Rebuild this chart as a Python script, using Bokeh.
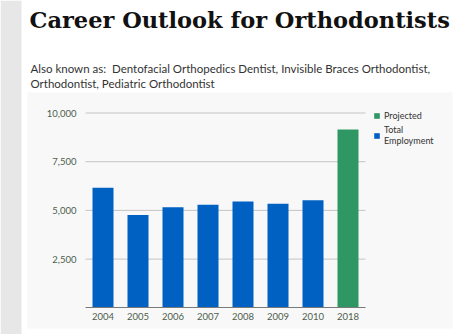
from bokeh.plotting import figure
from bokeh.models import (Range1d, Label, BoxAnnotation, Legend, LegendItem,
                          NumeralTickFormatter, FixedTicker)
from bokeh.embed import file_html
from bokeh.resources import INLINE

# ---- data ----
years = ["2004", "2005", "2006", "2007", "2008", "2009", "2010", "2018"]
hist_values = [6160, 4770, 5160, 5290, 5460, 5340, 5520]
proj_values = [9150]
y_ticks = [2500, 5000, 7500, 10000]

title_text = "Career Outlook for Orthodontists"
sub1 = "Also known as:\u00a0 Dentofacial Orthopedics Dentist, Invisible Braces Orthodontist,"
sub2 = "Orthodontist, Pediatric Orthodontist"

# ---- layout (canvas px) ----
W, H = 474, 334
PL, PR = 85, 365          # plot area left/right
Y0, Y10K = 307.3, 112.5   # canvas y of value 0 and 10000
xpx = (PR - PL) / len(years)
ypx = (Y0 - Y10K) / 10000.0

BLUE = "#0061c3"
GREEN = "#2f9763"
TICK_COLOR = "#4d5e4d"

x_start = -PL / xpx
x_end = len(years) + (W - PR) / xpx
y_start = -(H - Y0) / ypx
y_end = Y0 / ypx

p = figure(width=W, height=H, x_range=Range1d(x_start, x_end),
           y_range=Range1d(y_start, y_end), output_backend="svg",
           toolbar_location=None, min_border=0)
p.title.visible = False
p.outline_line_color = None
p.background_fill_color = "white"
p.border_fill_color = "white"

def sy(y):
    return H - y

strip = BoxAnnotation(left=0, right=21, top=sy(0), bottom=sy(H),
                      left_units="screen", right_units="screen", top_units="screen",
                      bottom_units="screen", fill_color="#e7e7e7", fill_alpha=1,
                      line_color=None, level="image")
panel = BoxAnnotation(left=27, right=452, top=sy(92), bottom=sy(328),
                      left_units="screen", right_units="screen", top_units="screen",
                      bottom_units="screen", fill_color="#f8f8f8", fill_alpha=1,
                      line_color=None, level="image")
p.add_layout(strip)
p.add_layout(panel)

# gridlines across the plot area only
n = len(years)
p.segment(x0=[0] * len(y_ticks), x1=[n] * len(y_ticks), y0=y_ticks, y1=y_ticks,
          line_color="#c4c4c4", line_width=1)

hist_x = [i + 0.5 for i in range(len(hist_values))]
proj_x = [len(hist_values) + i + 0.5 for i in range(len(proj_values))]
r_blue = p.vbar(x=hist_x, top=hist_values, width=0.6, fill_color=BLUE, line_color=None)
r_green = p.vbar(x=proj_x, top=proj_values, width=0.6, fill_color=GREEN, line_color=None)

# axes
p.xgrid.visible = False
p.ygrid.visible = False

p.yaxis.fixed_location = 0
p.yaxis.ticker = FixedTicker(ticks=y_ticks)
p.yaxis.formatter = NumeralTickFormatter(format="0,0")
p.yaxis.axis_line_color = None
p.yaxis.major_tick_line_color = None
p.yaxis.minor_tick_line_color = None
p.yaxis.major_tick_out = 0
p.yaxis.major_tick_in = 0
p.yaxis.major_label_standoff = 9
p.yaxis.major_label_text_font = "Lato"
p.yaxis.major_label_text_font_size = "9.5px"
p.yaxis.major_label_text_color = TICK_COLOR

tick_pos = [i + 0.5 for i in range(n)]
p.xaxis.fixed_location = 0
p.xaxis.bounds = (0, n)
p.xaxis.ticker = FixedTicker(ticks=tick_pos)
p.xaxis.major_label_overrides = {t: y for t, y in zip(tick_pos, years)}
p.xaxis.axis_line_color = "#7a7a7a"
p.xaxis.axis_line_width = 1
p.xaxis.major_tick_line_color = None
p.xaxis.minor_tick_line_color = None
p.xaxis.major_tick_out = 0
p.xaxis.major_tick_in = 0
p.xaxis.major_label_standoff = 5
p.xaxis.major_label_text_font = "Lato"
p.xaxis.major_label_text_font_size = "9.5px"
p.xaxis.major_label_text_color = TICK_COLOR

# legend (location = bottom-left corner, measured from bottom)
legend = Legend(items=[LegendItem(label="Projected", renderers=[r_green]),
                       LegendItem(label="Total\nEmployment", renderers=[r_blue])],
                location=(373, sy(146)), padding=0, margin=0, spacing=3,
                glyph_width=7, glyph_height=7, label_standoff=4, label_height=9,
                label_text_font="Lato", label_text_font_size="9px",
                label_text_color="#333333", border_line_color=None,
                background_fill_alpha=0)
p.add_layout(legend)

# titles
p.add_layout(Label(x=29, y=sy(19), x_units="screen", y_units="screen", text=title_text,
                   text_font="DejaVu Serif", text_font_style="bold", text_font_size="22.5px",
                   text_color="#111111", text_baseline="middle"))
p.add_layout(Label(x=30, y=sy(68), x_units="screen", y_units="screen", text=sub1,
                   text_font="Lato", text_font_size="11.5px", text_color="#333333",
                   text_baseline="middle"))
p.add_layout(Label(x=30, y=sy(83), x_units="screen", y_units="screen", text=sub2,
                   text_font="Lato", text_font_size="11.5px", text_color="#333333",
                   text_baseline="middle"))

open("out.html", "w").write(file_html(p, INLINE))
